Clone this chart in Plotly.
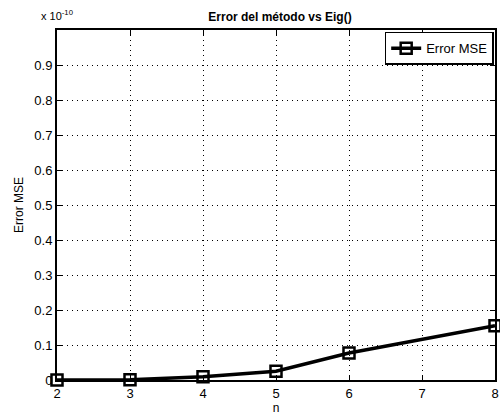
import plotly.graph_objects as go

n_vals = [2, 3, 4, 5, 6, 7, 8]
mse_vals = [0.0, 0.001e-10, 0.009e-10, 0.025e-10, 0.077e-10, 0.115e-10, 0.155e-10]
scale = 1e-10
y_ticks = [0, 0.1, 0.2, 0.3, 0.4, 0.5, 0.6, 0.7, 0.8, 0.9]
y_ticklabels = ["0", "0.1", "0.2", "0.3", "0.4", "0.5", "0.6", "0.7", "0.8", "0.9"]

y_plot = [v / scale for v in mse_vals]
x_pts = [n_vals[i] for i in (0, 1, 2, 3, 4, 6)]
y_pts = [y_plot[i] for i in (0, 1, 2, 3, 4, 6)]

fig = go.Figure()
fig.add_trace(go.Scatter(
    x=x_pts, y=y_pts, mode="lines+markers", name="Error MSE",
    line=dict(color="black", width=3.5),
    marker=dict(symbol="square-open", size=11, color="black", line=dict(width=2.5)),
    cliponaxis=False,
))

font = dict(family="Liberation Sans, Arial", size=13, color="black")
fig.update_layout(
    width=500, height=419,
    margin=dict(l=57, r=1, t=30, b=39),
    paper_bgcolor="white", plot_bgcolor="white",
    font=font,
    title=dict(text="<b>Error del método vs Eig()</b>", x=0.56, xanchor="center", y=0.96, yanchor="middle",
               font=dict(family="Liberation Sans, Arial", size=12, color="black")),
    showlegend=True,
    legend=dict(x=0.997, y=0.995, xanchor="right", yanchor="top", bordercolor="black", borderwidth=1.5,
                bgcolor="white", font=dict(size=13)),
    xaxis=dict(range=[2, 8], tickvals=n_vals, showgrid=True, gridcolor="black", griddash="1px,4px", gridwidth=1,
               showline=True, linecolor="black", linewidth=2, mirror="ticks", ticks="inside", ticklen=5,
               tickcolor="black", zeroline=False, ticklabeloverflow="allow",
               title=dict(text="n", standoff=4, font=dict(size=12))),
    yaxis=dict(range=[0, 1.0], tickvals=y_ticks, ticktext=y_ticklabels, showgrid=True, gridcolor="black",
               griddash="1px,4px", gridwidth=1, showline=True, linecolor="black", linewidth=2, mirror="ticks",
               ticks="inside", ticklen=5, tickcolor="black", zeroline=False,
               title=dict(text="Error MSE", standoff=8, font=dict(size=12))),
)
fig.add_annotation(text="x 10<sup>-10</sup>", xref="paper", yref="paper", x=0.0, y=1.0, xanchor="center",
                   yanchor="bottom", yshift=6, showarrow=False, font=dict(size=11, color="black"))
fig.write_html("out.html")
